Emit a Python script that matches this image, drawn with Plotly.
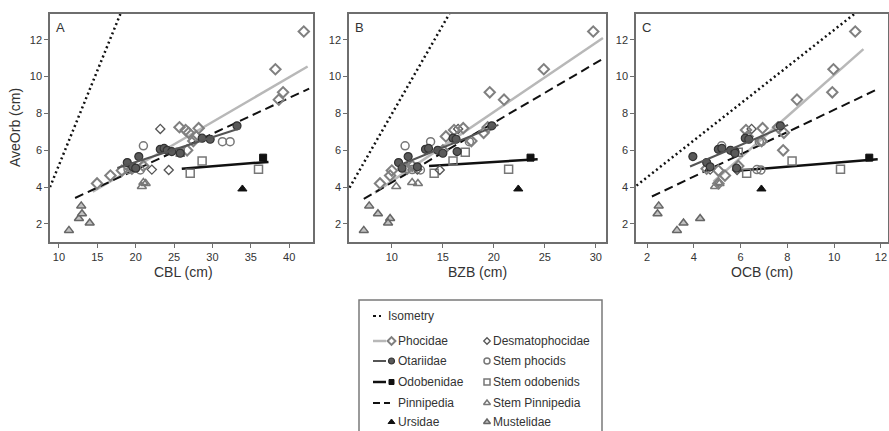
import plotly.graph_objects as go

W, H = 889, 431

# ---------------- data (AveOrb shared across panels; CBL / BZB / OCB per panel) ----------------
phocidae_orb = [12.45, 10.4, 9.15, 8.75, 7.25, 7.2, 7.1, 6.95, 6.75, 6.5, 6.0, 4.2, 4.63, 4.9, 5.0, 5.15]
phocidae_cbl = [41.9, 38.2, 39.2, 38.65, 25.7, 28.2, 26.5, 26.9, 27.9, 27.5, 26.7, 14.96, 16.7, 18.2, 19.5, 21.0]
phocidae_bzb = [29.75, 24.9, 19.6, 21.0, 19.4, 17.0, 16.1, 19.0, 15.3, 17.8, 15.0, 8.84, 9.83, 10.0, 11.5, 12.0]
phocidae_ocb = [10.9, 9.97, 9.92, 8.41, 7.6, 6.94, 6.23, 7.85, 6.3, 6.9, 7.82, 5.05, 5.33, 5.05, 4.55, 5.9]

desmato_orb = [7.16, 4.95, 4.93]
desmato_cbl = [23.2, 22.1, 24.3]
desmato_bzb = [16.5, 12.5, 14.7]
desmato_ocb = [6.47, 4.7, 5.85]

otariidae_orb = [5.33, 5.66, 6.05, 6.1, 6.0, 5.93, 5.84, 6.66, 6.6, 7.33, 5.1, 5.03]
otariidae_cbl = [18.9, 20.4, 23.2, 23.7, 24.1, 24.7, 25.8, 28.65, 29.7, 33.2, 19.6, 20.0]
otariidae_bzb = [10.66, 11.6, 13.3, 13.6, 14.5, 16.4, 15.0, 16.0, 16.3, 19.8, 12.5, 11.0]
otariidae_ocb = [4.55, 3.96, 5.05, 5.2, 5.57, 5.76, 5.76, 6.2, 6.35, 7.7, 4.7, 5.83]

stemphocid_orb = [6.24, 6.47, 6.47, 4.95, 4.93]
stemphocid_cbl = [21.0, 31.3, 32.3, 19.0, 20.6]
stemphocid_bzb = [11.3, 13.8, 17.6, 12.0, 12.8]
stemphocid_ocb = [5.19, 6.8, 6.9, 6.7, 6.87]

odobenidae_orb = [5.6]
odobenidae_cbl = [36.6]
odobenidae_bzb = [23.6]
odobenidae_ocb = [11.5]

stemodob_orb = [4.75, 5.42, 4.97, 5.9]
stemodob_cbl = [27.1, 28.65, 36.0, 25.8]
stemodob_bzb = [14.15, 16.0, 21.45, 17.2]
stemodob_ocb = [6.26, 8.2, 10.27, 5.9]

stempinn_orb = [4.25, 4.2, 4.03]
stempinn_cbl = [21.0, 21.3, 20.8]
stempinn_bzb = [11.99, 12.56, 10.43]
stempinn_ocb = [5.05, 5.1, 4.91]

ursidae_orb = [3.9]
ursidae_cbl = [33.9]
ursidae_bzb = [22.4]
ursidae_ocb = [6.89]

mustelidae_orb = [1.65, 2.3, 2.55, 2.05, 2.98]
mustelidae_cbl = [11.3, 12.6, 13.0, 14.0, 12.9]
mustelidae_bzb = [7.25, 9.83, 8.64, 9.63, 7.78]
mustelidae_ocb = [3.28, 4.27, 2.45, 3.56, 2.5]

# fitted / reference lines: [x_start, x_end], [y_start, y_end] per panel
iso_x = {"A": [8.83, 18.0], "B": [5.85, 15.64], "C": [1.55, 10.87]}
iso_y = {"A": [4.0, 13.4], "B": [3.97, 13.41], "C": [4.08, 13.41]}
phoc_line_x = {"A": [14.4, 42.4], "B": [8.34, 30.7], "C": [4.84, 11.25]}
phoc_line_y = {"A": [3.75, 10.55], "B": [3.7, 12.1], "C": [4.3, 11.49]}
otar_line_x = {"A": [17.6, 33.6], "B": [10.8, 20.45], "C": [3.84, 8.03]}
otar_line_y = {"A": [5.04, 7.2], "B": [5.2, 7.38], "C": [5.12, 7.38]}
odob_line_x = {"A": [26.0, 37.3], "B": [13.65, 24.3], "C": [5.97, 11.86]}
odob_line_y = {"A": [5.0, 5.37], "B": [5.15, 5.51], "C": [4.9, 5.51]}
pinn_line_x = {"A": [12.1, 42.6], "B": [7.25, 30.8], "C": [2.21, 11.79]}
pinn_line_y = {"A": [3.41, 9.35], "B": [3.36, 11.0], "C": [3.49, 9.28]}

x_titles = {"A": "CBL (cm)", "B": "BZB (cm)", "C": "OCB (cm)"}
x_ranges = {"A": [8.83, 43.1], "B": [5.8, 31.0], "C": [1.53, 12.3]}
x_ticks = {"A": [10, 15, 20, 25, 30, 35, 40], "B": [10, 15, 20, 25, 30], "C": [2, 4, 6, 8, 10, 12]}
y_ticks = [2, 4, 6, 8, 10, 12]
y_range = [1.02, 13.4]

# ---------------- styles ----------------
TXT = "#333333"
AX = "#6e6e6e"
FONT = "Liberation Sans, Arial, sans-serif"

point_styles = {
    "Phocidae": dict(symbol="diamond-open", size=8, color="#808080", line=dict(width=2, color="#808080")),
    "Desmatophocidae": dict(symbol="diamond-open", size=7, color="#555555", line=dict(width=1.3, color="#555555")),
    "Otariidae": dict(symbol="circle", size=8, color="#5a5a5a", line=dict(width=1.2, color="#333333")),
    "Stem phocids": dict(symbol="circle-open", size=8, color="#777777", line=dict(width=1.5, color="#777777")),
    "Odobenidae": dict(symbol="square", size=7, color="#111111", line=dict(width=1, color="#111111")),
    "Stem odobenids": dict(symbol="square-open", size=8, color="#777777", line=dict(width=1.5, color="#777777")),
    "Stem Pinnipedia": dict(symbol="triangle-up-open", size=8, color="#777777", line=dict(width=1.5, color="#777777")),
    "Ursidae": dict(symbol="triangle-up", size=8, color="#111111", line=dict(width=1, color="#111111")),
    "Mustelidae": dict(symbol="triangle-up", size=8, color="#c0c0c0", line=dict(width=1.5, color="#666666")),
}
line_styles = {
    "Isometry": dict(color="#111111", width=2.5, dash="2px,3px"),
    "Phocidae": dict(color="#b8b8b8", width=2.5),
    "Otariidae": dict(color="#555555", width=2),
    "Odobenidae": dict(color="#111111", width=2.5),
    "Pinnipedia": dict(color="#111111", width=2, dash="9px,5px"),
}

groups = [
    ("Stem Pinnipedia", stempinn_orb, stempinn_cbl, stempinn_bzb, stempinn_ocb),
    ("Mustelidae", mustelidae_orb, mustelidae_cbl, mustelidae_bzb, mustelidae_ocb),
    ("Ursidae", ursidae_orb, ursidae_cbl, ursidae_bzb, ursidae_ocb),
    ("Stem odobenids", stemodob_orb, stemodob_cbl, stemodob_bzb, stemodob_ocb),
    ("Odobenidae", odobenidae_orb, odobenidae_cbl, odobenidae_bzb, odobenidae_ocb),
    ("Stem phocids", stemphocid_orb, stemphocid_cbl, stemphocid_bzb, stemphocid_ocb),
    ("Desmatophocidae", desmato_orb, desmato_cbl, desmato_bzb, desmato_ocb),
    ("Phocidae", phocidae_orb, phocidae_cbl, phocidae_bzb, phocidae_ocb),
    ("Otariidae", otariidae_orb, otariidae_cbl, otariidae_bzb, otariidae_ocb),
]

# panel pixel boxes (left, right) ; shared top/bottom
panel_px = {"A": (50, 313), "B": (349, 606), "C": (636, 888)}
top_px, bottom_px = 14, 242

fig = go.Figure()

panels = ["A", "B", "C"]
for i, p in enumerate(panels):
    xa = "x" if i == 0 else f"x{i+1}"
    ya = "y" if i == 0 else f"y{i+1}"
    lines = [
        ("Isometry", iso_x[p], iso_y[p]),
        ("Phocidae", phoc_line_x[p], phoc_line_y[p]),
        ("Pinnipedia", pinn_line_x[p], pinn_line_y[p]),
        ("Odobenidae", odob_line_x[p], odob_line_y[p]),
    ]
    for name, lx, ly in lines:
        fig.add_trace(go.Scatter(x=lx, y=ly, mode="lines", line=line_styles[name],
                                 xaxis=xa, yaxis=ya, showlegend=False, hoverinfo="skip"))
    for name, orb, cbl, bzb, ocb in groups:
        xs = {"A": cbl, "B": bzb, "C": ocb}[p]
        fig.add_trace(go.Scatter(x=xs, y=orb, mode="markers", marker=point_styles[name],
                                 xaxis=xa, yaxis=ya, showlegend=False, name=name, cliponaxis=False))
    fig.add_trace(go.Scatter(x=otar_line_x[p], y=otar_line_y[p], mode="lines",
                             line=line_styles["Otariidae"], xaxis=xa, yaxis=ya,
                             showlegend=False, hoverinfo="skip"))

axis_common = dict(showline=True, mirror=True, linecolor=AX, linewidth=1.5, ticks="outside",
                   ticklen=4, tickwidth=1, tickcolor=AX, showgrid=False, zeroline=False,
                   tickfont=dict(family=FONT, size=11, color=TXT))

layout = dict(width=W, height=H, margin=dict(l=0, r=0, t=0, b=0),
              paper_bgcolor="white", plot_bgcolor="white", showlegend=False,
              font=dict(family=FONT, color=TXT))
annotations = []
for i, p in enumerate(panels):
    l, r = panel_px[p]
    xk = "xaxis" if i == 0 else f"xaxis{i+1}"
    yk = "yaxis" if i == 0 else f"yaxis{i+1}"
    xa = "x" if i == 0 else f"x{i+1}"
    ya = "y" if i == 0 else f"y{i+1}"
    layout[xk] = dict(domain=[l / W, r / W], range=x_ranges[p], tickvals=x_ticks[p],
                      anchor=ya, **axis_common)
    layout[yk] = dict(domain=[1 - bottom_px / H, 1 - top_px / H], range=y_range, tickvals=y_ticks,
                      anchor=xa, **axis_common)
    annotations.append(dict(text=p, xref="paper", yref="paper", x=(l + 4) / W, y=1 - 18 / H,
                            xanchor="left", yanchor="top", showarrow=False,
                            font=dict(family=FONT, size=13, color=TXT)))
    annotations.append(dict(text=x_titles[p], xref="paper", yref="paper",
                            x=((l + r) / 2 + (2 if p == "A" else 0)) / W, y=1 - 272 / H,
                            xanchor="center", yanchor="middle", showarrow=False,
                            font=dict(family=FONT, size=14, color=TXT)))
annotations.append(dict(text="AveOrb (cm)", xref="paper", yref="paper", x=15 / W,
                        y=1 - 128 / H, textangle=-90, xanchor="center", yanchor="middle",
                        showarrow=False, font=dict(family=FONT, size=14, color=TXT)))

# ---------------- legend box (drawn on its own pixel-scaled axis) ----------------
leg_l, leg_r, leg_t = 359, 602, 300
layout["xaxis4"] = dict(domain=[leg_l / W, leg_r / W], range=[leg_l, leg_r], visible=False,
                        anchor="y4", fixedrange=True)
layout["yaxis4"] = dict(domain=[0, (H - leg_t) / H], range=[H, leg_t], visible=False,
                        anchor="x4", fixedrange=True)

legend_rows_y = [316, 341, 361, 382, 403, 422]
col1_items = [("Phocidae", "Phocidae", "Phocidae"), ("Otariidae", "Otariidae", "Otariidae"),
              ("Odobenidae", "Odobenidae", "Odobenidae"), ("Pinnipedia", "Pinnipedia", None),
              ("Ursidae", None, "Ursidae")]
col2_items = ["Desmatophocidae", "Stem phocids", "Stem odobenids", "Stem Pinnipedia", "Mustelidae"]

def leg_marker(name, x, y):
    st = dict(point_styles[name])
    st["size"] = max(st["size"] - 2, 5)
    fig.add_trace(go.Scatter(x=[x], y=[y], mode="markers", marker=st, xaxis="x4", yaxis="y4",
                             showlegend=False, hoverinfo="skip", cliponaxis=False))

def leg_text(text, x, y):
    annotations.append(dict(text=text, xref="x4", yref="y4", x=x, y=y, xanchor="left",
                            yanchor="middle", showarrow=False,
                            font=dict(family=FONT, size=12, color=TXT)))

# isometry row
fig.add_trace(go.Scatter(x=[373, 381], y=[legend_rows_y[0]] * 2, mode="lines",
                         line=dict(color="#111111", width=2, dash="3px,3px"),
                         xaxis="x4", yaxis="y4", showlegend=False, hoverinfo="skip"))
leg_text("Isometry", 386, legend_rows_y[0])

for (label, line_name, mk_name), yrow in zip(col1_items, legend_rows_y[1:]):
    if line_name is not None:
        x_end = 390 if mk_name is None else 386
        st = dict(line_styles[line_name])
        if line_name == "Pinnipedia":
            st["dash"] = "7px,4px"
        fig.add_trace(go.Scatter(x=[373, x_end], y=[yrow, yrow], mode="lines", line=st,
                                 xaxis="x4", yaxis="y4", showlegend=False, hoverinfo="skip"))
    if mk_name is not None:
        leg_marker(mk_name, 391.5, yrow)
    leg_text(label, 396, yrow)

for label, yrow in zip(col2_items, legend_rows_y[1:]):
    leg_marker(label, 487, yrow)
    leg_text(label, 491, yrow)

layout["annotations"] = annotations
layout["shapes"] = [dict(type="rect", xref="paper", yref="paper", x0=leg_l / W, x1=leg_r / W,
                         y0=-0.05, y1=1 - leg_t / H, line=dict(color="#7a7a7a", width=1.5),
                         fillcolor="rgba(0,0,0,0)", layer="below")]
fig.update_layout(**layout)

fig.write_html("out.html", config={"displayModeBar": False},
               post_script="document.body.style.margin='0';document.body.style.overflow='hidden';")
